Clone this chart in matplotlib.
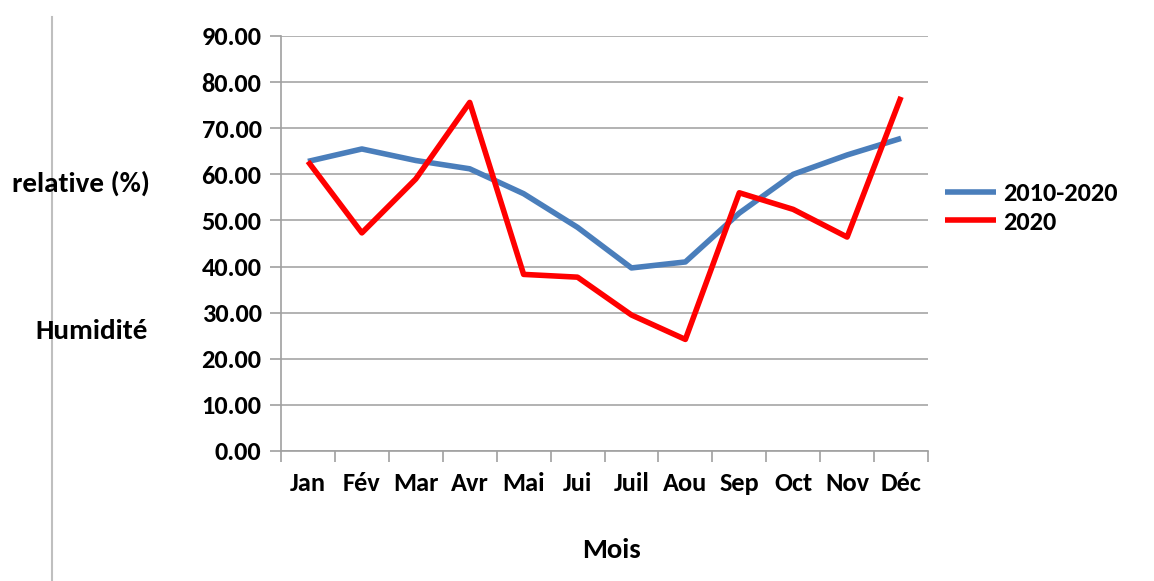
import matplotlib.pyplot as plt
from matplotlib.lines import Line2D

plt.rcParams['font.family'] = ['Carlito', 'DejaVu Sans']
plt.rcParams['font.weight'] = 'bold'

mois = ['Jan', 'Fév', 'Mar', 'Avr', 'Mai', 'Jui', 'Juil', 'Aou', 'Sep', 'Oct', 'Nov', 'Déc']
moyenne_2010_2020 = [62.8, 65.5, 63.0, 61.2, 55.8, 48.5, 39.7, 41.0, 51.6, 60.0, 64.2, 67.8]
annee_2020 = [62.8, 47.3, 59.0, 75.6, 38.3, 37.7, 29.5, 24.2, 56.0, 52.4, 46.4, 76.8]

fig = plt.figure(figsize=(11.54, 5.81), dpi=100)
ax = fig.add_axes([281 / 1154, 1 - 451 / 581, 647 / 1154, 415 / 581])

x = range(len(mois))
ax.plot(x, moyenne_2010_2020, color='#4a7ebb', lw=4, label='2010-2020', solid_capstyle='butt')
ax.plot(x, annee_2020, color='#ff0000', lw=4, label='2020', solid_capstyle='butt')

ax.set_xlim(-0.5, 11.5)
ax.set_ylim(0, 90)
ax.set_yticks(range(0, 91, 10))
ax.set_yticklabels([f'{v:.2f}' for v in range(0, 91, 10)], fontweight='bold')
ax.set_xticks(x)
ax.set_xticklabels(mois, fontweight='bold')
ax.set_xticks([i - 0.5 for i in range(13)], minor=True)
ax.tick_params(axis='x', which='major', length=0, pad=15, labelsize=19)
ax.tick_params(axis='x', which='minor', length=8, color='#a0a0a0', width=1.2)
ax.tick_params(axis='y', length=8, color='#a0a0a0', width=1.2, pad=6, labelsize=19)
ax.grid(axis='y', color='#a6a6a6', lw=1.2)
ax.set_axisbelow(True)
for s in ['top', 'right']:
    ax.spines[s].set_visible(False)
for s in ['left', 'bottom']:
    ax.spines[s].set_color('#a0a0a0')
    ax.spines[s].set_linewidth(1.2)

fig.text(611 / 1154, 1 - 550 / 581, 'Mois', ha='center', va='center', fontsize=20.5, fontweight='bold')
fig.text(81 / 1154, 1 - 183 / 581, 'relative (%)', ha='center', va='center', fontsize=21, fontweight='bold')
fig.text(92 / 1154, 1 - 331 / 581, 'Humidité', ha='center', va='center', fontsize=21, fontweight='bold')

fig.add_artist(Line2D([52 / 1154, 52 / 1154], [0, 1 - 17 / 581], color='#bfbfbf', lw=1.5))

ax.legend(loc='center left', bbox_to_anchor=(945 / 1154, 1 - 208 / 581), bbox_transform=fig.transFigure,
          frameon=False, prop={'size': 19, 'weight': 'bold'}, handlelength=1.95, handletextpad=0.25,
          labelspacing=0.2, borderpad=0, borderaxespad=0, handleheight=0.7)

fig.savefig('out.png', dpi=100)
